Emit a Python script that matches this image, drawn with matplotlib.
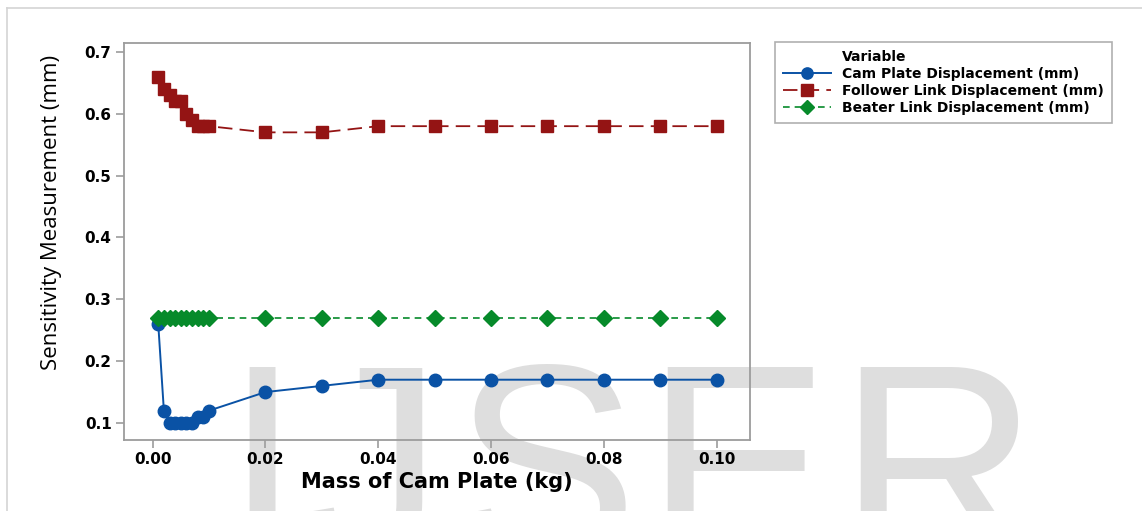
import matplotlib
matplotlib.use("Agg")
import matplotlib.pyplot as plt
from matplotlib.lines import Line2D

# data
mass = [0.001, 0.002, 0.003, 0.004, 0.005, 0.006, 0.007, 0.008, 0.009, 0.010,
        0.02, 0.03, 0.04, 0.05, 0.06, 0.07, 0.08, 0.09, 0.10]
cam_plate = [0.26, 0.12, 0.10, 0.10, 0.10, 0.10, 0.10, 0.11, 0.11, 0.12,
             0.15, 0.16, 0.17, 0.17, 0.17, 0.17, 0.17, 0.17, 0.17]
follower = [0.66, 0.64, 0.63, 0.62, 0.62, 0.60, 0.59, 0.58, 0.58, 0.58,
            0.57, 0.57, 0.58, 0.58, 0.58, 0.58, 0.58, 0.58, 0.58]
beater = [0.27] * len(mass)

x_ticks = [0.00, 0.02, 0.04, 0.06, 0.08, 0.10]
y_ticks = [0.1, 0.2, 0.3, 0.4, 0.5, 0.6, 0.7]
labels = ["Cam Plate Displacement (mm)", "Follower Link Displacement (mm)",
          "Beater Link Displacement (mm)"]
watermark = ["I", "J", "S", "E", "R"]
watermark_x = [262, 373, 545, 737, 937]

plt.rcParams['font.family'] = ['DejaVu Sans']

W, H = 1142, 511
fig = plt.figure(figsize=(W / 100, H / 100), dpi=100)
fig.patch.set_facecolor('white')

# page frame (top and left edges)
fig.add_artist(Line2D([7 / W, 7 / W], [0, 1 - 8 / H], transform=fig.transFigure,
                      color='#d4d4d4', lw=1.2, zorder=-2))
fig.add_artist(Line2D([7 / W, 1], [1 - 8 / H, 1 - 8 / H], transform=fig.transFigure,
                      color='#d4d4d4', lw=1.2, zorder=-2))

# watermark
for ch, xp in zip(watermark, watermark_x):
    fig.text(xp / W, 1 - 559 / H, ch, ha='center', va='baseline',
             fontsize=200, color='#dedede', family='Liberation Sans', zorder=-1)

ax = fig.add_axes([124 / W, 1 - 440 / H, (750 - 124) / W, (440 - 43) / H])
ax.set_facecolor('none')

blue = '#0a52a5'
red = '#941414'
green = '#068a2a'

ax.plot(mass, cam_plate, color=blue, lw=1.4, marker='o', markersize=9,
        label=labels[0])
ax.plot(mass, follower, color=red, lw=1.3, marker='s', markersize=9,
        dashes=(8, 4), label=labels[1])
ax.plot(mass, beater, color=green, lw=1.2, marker='D', markersize=8,
        dashes=(4, 3), label=labels[2])

ax.set_xlim(-0.00507, 0.1059)
ax.set_ylim(0.0725, 0.7145)
ax.set_xticks(x_ticks)
ax.set_xticklabels(['%.2f' % v for v in x_ticks])
ax.set_yticks(y_ticks)
ax.set_yticklabels(['%.1f' % v for v in y_ticks])

for s in ax.spines.values():
    s.set_color('#9c9c9c')
    s.set_linewidth(1.3)
ax.tick_params(direction='out', length=6, width=1.2, color='#9c9c9c',
               labelsize=11, pad=3)
for t in ax.get_xticklabels() + ax.get_yticklabels():
    t.set_fontweight('bold')

ax.set_xlabel('Mass of Cam Plate (kg)', fontsize=15, fontweight='bold',
              labelpad=3)
ax.set_ylabel('Sensitivity Measurement (mm)', fontsize=16, family='Open Sans')
ax.yaxis.set_label_coords(-0.099, 0.572)

# legend with the title aligned to the entry texts
blank = Line2D([], [], linestyle='none', marker=None)
handles, labs = ax.get_legend_handles_labels()
leg = fig.legend([blank] + handles, ['Variable'] + labs,
                 loc='upper left', bbox_to_anchor=(775 / W, 1 - 42 / H),
                 borderaxespad=0, frameon=True, fancybox=False,
                 handlelength=3.4, handletextpad=0.8, labelspacing=0.2,
                 borderpad=0.6, markerscale=0.9,
                 prop={'weight': 'bold', 'size': 10})
leg.get_frame().set_edgecolor('#9c9c9c')
leg.get_frame().set_linewidth(1.2)

fig.savefig('out.png', dpi=100)
